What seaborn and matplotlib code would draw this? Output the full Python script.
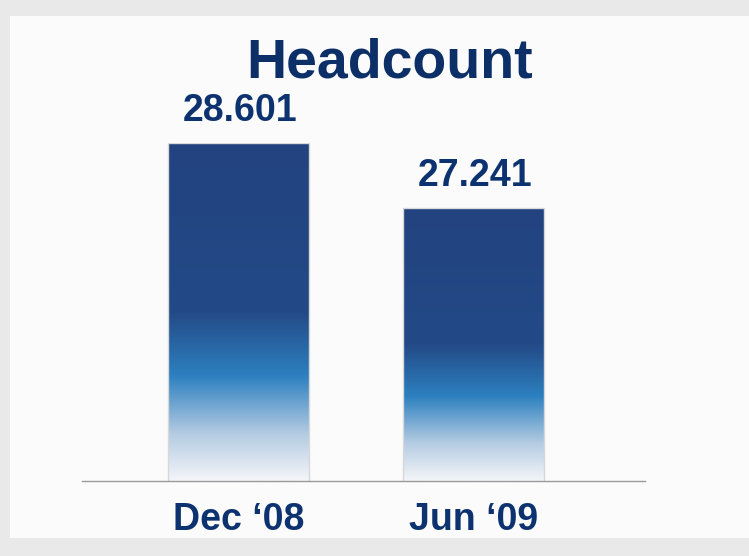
import numpy as np
import pandas as pd
import matplotlib
matplotlib.use("Agg")
import matplotlib.pyplot as plt
from matplotlib.colors import LinearSegmentedColormap
from matplotlib.patches import Rectangle
import seaborn as sns

categories = ["Dec \u201808", "Jun \u201809"]
values = [28601, 27241]
value_labels = ["28.601", "27.241"]
title = "Headcount"

sns.set_theme(style="white")
plt.rcParams['font.family'] = ['Liberation Sans', 'DejaVu Sans']

navy = "#0d3270"
W, H = 749, 556
fig = plt.figure(figsize=(W / 100, H / 100), dpi=100)
fig.patch.set_facecolor("#e9e9e9")

# inner panel
fig.patches.append(Rectangle((10 / W, (H - 538) / H), (W - 10) / W, (538 - 16) / H,
                             transform=fig.transFigure, facecolor="#fbfbfb",
                             edgecolor="none", zorder=-10))

ax = fig.add_axes([82 / W, (H - 481) / H, (645 - 82) / W, 338 / H])
ax.set_facecolor("none")
ax.set_zorder(5)

df = pd.DataFrame({"period": categories, "headcount": values})
sns.barplot(data=df, x="period", y="headcount", ax=ax, width=0.6,
            color="#234a87", edgecolor="#d8d8d8", linewidth=1.0)

ymin = 21530
ax.set_ylim(ymin, values[0])
ax.set_xlim(-0.666, 1.73)

cmap = LinearSegmentedColormap.from_list("g", [
    (0.0, "#f4f5f9"), (0.14, "#b3cbe2"), (0.31, "#2d80c0"),
    (0.5, "#234a87"), (1.0, "#22437f")])
grad = np.linspace(0, 1, 256).reshape(-1, 1)
for bar, lab in zip(ax.patches, value_labels):
    x0, w = bar.get_x(), bar.get_width()
    top = bar.get_y() + bar.get_height()
    bar.set_facecolor("none")
    im = ax.imshow(grad, cmap=cmap, origin="lower", aspect="auto",
                   extent=(x0, x0 + w, ymin, top), zorder=1, interpolation="bilinear")
    im.set_clip_path(bar)
    bar.set_zorder(2)
    ax.annotate(lab, (x0 + w / 2, top), xytext=(1, 10), textcoords="offset points",
                ha="center", va="bottom", fontsize=27, fontweight="bold",
                color=navy, annotation_clip=False)

ax.set_xlim(-0.666, 1.73)
ax.set_ylim(ymin, values[0])
ax.set_xlabel("")
ax.set_ylabel("")
ax.set_yticks([])
ax.tick_params(axis="x", length=0, pad=15)
for t in ax.get_xticklabels():
    t.set_fontsize(27)
    t.set_fontweight("bold")
    t.set_color(navy)
for s in ["top", "right", "left"]:
    ax.spines[s].set_visible(False)
ax.spines["bottom"].set_color("#9a9a9a")
ax.spines["bottom"].set_linewidth(1.0)
ax.spines["bottom"].set_linestyle((0, (2, 1)))

fig.text(390 / W, 1 - 64 / H, title, ha="center", va="center",
         fontsize=40, fontweight="bold", color="#0b2f66")

fig.savefig("out.png", dpi=100)
